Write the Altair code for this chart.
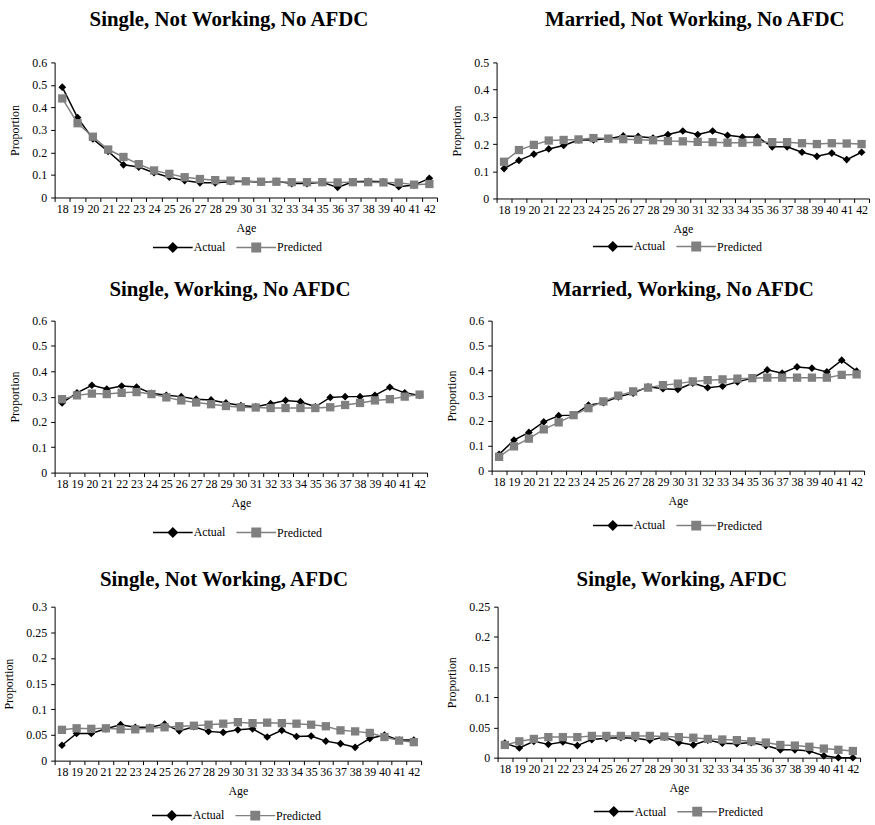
import altair as alt
import pandas as pd

ages = list(range(18, 43))
series_names = ["Actual", "Predicted"]
series_colors = ["#000000", "#808080"]

titles = [
    "Single, Not Working, No AFDC",
    "Married, Not Working, No AFDC",
    "Single, Working, No AFDC",
    "Married, Working, No AFDC",
    "Single, Not Working, AFDC",
    "Single, Working, AFDC",
]

snw_noafdc_actual = [0.49, 0.355, 0.26, 0.205, 0.145, 0.135, 0.11, 0.09, 0.075, 0.065, 0.065, 0.07, 0.072,
                     0.068, 0.072, 0.062, 0.062, 0.068, 0.045, 0.07, 0.072, 0.07, 0.048, 0.055, 0.085]
snw_noafdc_pred = [0.44, 0.33, 0.27, 0.213, 0.18, 0.148, 0.12, 0.105, 0.09, 0.082, 0.077, 0.075, 0.072,
                   0.07, 0.07, 0.068, 0.068, 0.068, 0.067, 0.068, 0.068, 0.067, 0.066, 0.057, 0.06]

mnw_noafdc_actual = [0.11, 0.14, 0.163, 0.182, 0.195, 0.215, 0.215, 0.22, 0.23, 0.228, 0.222, 0.235, 0.248,
                     0.235, 0.248, 0.232, 0.226, 0.226, 0.19, 0.19, 0.17, 0.155, 0.167, 0.143, 0.17]
mnw_noafdc_pred = [0.135, 0.178, 0.197, 0.213, 0.215, 0.217, 0.222, 0.22, 0.218, 0.216, 0.214, 0.211, 0.21,
                   0.208, 0.207, 0.205, 0.205, 0.207, 0.207, 0.207, 0.203, 0.2, 0.203, 0.202, 0.2]

sw_noafdc_actual = [0.275, 0.315, 0.345, 0.33, 0.342, 0.338, 0.313, 0.305, 0.3, 0.29, 0.287, 0.275, 0.265,
                    0.26, 0.272, 0.285, 0.28, 0.26, 0.297, 0.3, 0.3, 0.305, 0.337, 0.315, 0.305]
sw_noafdc_pred = [0.29, 0.305, 0.312, 0.31, 0.315, 0.318, 0.31, 0.297, 0.285, 0.277, 0.27, 0.263, 0.258,
                  0.257, 0.255, 0.255, 0.255, 0.255, 0.258, 0.267, 0.275, 0.285, 0.29, 0.3, 0.308]

mw_noafdc_actual = [0.065, 0.122, 0.153, 0.195, 0.22, 0.222, 0.262, 0.272, 0.295, 0.31, 0.335, 0.328, 0.325,
                    0.35, 0.332, 0.338, 0.355, 0.37, 0.403, 0.39, 0.415, 0.41, 0.395, 0.442, 0.398]
mw_noafdc_pred = [0.055, 0.097, 0.128, 0.165, 0.193, 0.222, 0.25, 0.277, 0.3, 0.317, 0.332, 0.342, 0.348,
                  0.357, 0.362, 0.365, 0.368, 0.37, 0.372, 0.372, 0.372, 0.372, 0.372, 0.383, 0.385]

snw_afdc_actual = [0.03, 0.053, 0.053, 0.062, 0.07, 0.065, 0.065, 0.071, 0.058, 0.066, 0.057, 0.055, 0.06,
                   0.062, 0.046, 0.059, 0.047, 0.048, 0.038, 0.033, 0.026, 0.043, 0.05, 0.04, 0.04]
snw_afdc_pred = [0.06, 0.063, 0.062, 0.063, 0.061, 0.061, 0.063, 0.065, 0.067, 0.068, 0.07, 0.072, 0.075,
                 0.073, 0.074, 0.073, 0.072, 0.07, 0.067, 0.059, 0.057, 0.054, 0.046, 0.039, 0.036]

sw_afdc_actual = [0.024, 0.016, 0.027, 0.022, 0.026, 0.02, 0.03, 0.032, 0.033, 0.032, 0.029, 0.034, 0.025,
                  0.021, 0.029, 0.024, 0.023, 0.025, 0.02, 0.013, 0.013, 0.011, 0.003, 0.0, 0.0]
sw_afdc_pred = [0.021, 0.027, 0.031, 0.034, 0.034, 0.034, 0.036, 0.036, 0.036, 0.036, 0.036, 0.035, 0.034,
                0.033, 0.031, 0.03, 0.029, 0.027, 0.025, 0.021, 0.02, 0.018, 0.015, 0.013, 0.011]

yticks_06 = [0, 0.1, 0.2, 0.3, 0.4, 0.5, 0.6]
yticks_05 = [0, 0.1, 0.2, 0.3, 0.4, 0.5]
yticks_03 = [0, 0.05, 0.1, 0.15, 0.2, 0.25, 0.3]
yticks_025 = [0, 0.05, 0.1, 0.15, 0.2, 0.25]

FONT = "Liberation Serif"
diamond_legend = "M-4,0H4M0,-0.9L0.9,0L0,0.9L-0.9,0Z"
square_legend = "M-4,0H4M-0.85,-0.85H0.85V0.85H-0.85Z"


def panel(title, actual, predicted, yticks, width, height, title_offset, title_dx, leg_x, leg_y):
    df = pd.DataFrame({
        "Age": ages + ages,
        "Proportion": actual + predicted,
        "Series": ["Actual"] * len(ages) + ["Predicted"] * len(ages),
    })
    x = alt.X(
        "Age:O",
        title="Age",
        bandPosition=0.5,
        scale=alt.Scale(type="band", paddingInner=0, paddingOuter=0),
        axis=alt.Axis(labelAngle=0, tickBand="extent", tickSize=4, labelPadding=2, titlePadding=8),
    )
    y = alt.Y(
        "Proportion:Q",
        title="Proportion",
        scale=alt.Scale(domain=[yticks[0], yticks[-1]], nice=False, zero=True),
        axis=alt.Axis(values=yticks, format=".2~f", grid=False, tickSize=4, labelPadding=4, titlePadding=10),
    )
    base = alt.Chart(df).encode(x=x, y=y)
    act = base.transform_filter("datum.Series == 'Actual'")
    pred = base.transform_filter("datum.Series == 'Predicted'")
    act_line = act.mark_line(color=series_colors[0], strokeWidth=1.5)
    act_pts = act.mark_point(shape="diamond", filled=True, color=series_colors[0], size=60, opacity=1)
    pred_line = pred.mark_line(color=series_colors[1], strokeWidth=1.5)
    pred_pts = pred.mark_point(shape="square", filled=True, color=series_colors[1], size=70, opacity=1)

    leg = alt.Legend(
        title=None, orient="none", direction="horizontal", legendX=leg_x, legendY=leg_y,
        symbolSize=100, symbolStrokeWidth=1.5, labelOffset=15, columnPadding=8,
        labelFont=FONT, labelFontSize=12, labelColor="black",
    )
    legend_layer = base.transform_filter("datum.Age < 0").mark_point(filled=True, opacity=1, strokeWidth=1.5).encode(
        shape=alt.Shape("Series:N", scale=alt.Scale(domain=series_names, range=[diamond_legend, square_legend]), legend=leg),
        fill=alt.Fill("Series:N", scale=alt.Scale(domain=series_names, range=series_colors), legend=leg),
        stroke=alt.Stroke("Series:N", scale=alt.Scale(domain=series_names, range=series_colors), legend=leg),
    )
    return alt.layer(act_line, act_pts, pred_line, pred_pts, legend_layer).properties(
        width=width,
        height=height,
        title=alt.TitleParams(title, offset=title_offset, dx=title_dx, anchor="middle"),
    )


def ind(c):
    return c.resolve_scale(shape="independent", fill="independent", stroke="independent").resolve_legend(
        shape="independent", fill="independent", stroke="independent")


row1 = ind(alt.hconcat(
    panel(titles[0], snw_noafdc_actual, snw_noafdc_pred, yticks_06, 385, 136, 27, -17, 113, 180),
    panel(titles[1], mnw_noafdc_actual, mnw_noafdc_pred, yticks_05, 375, 137, 27, 12, 111, 179),
    spacing=12,
))
row2 = ind(alt.hconcat(
    panel(titles[2], sw_noafdc_actual, sw_noafdc_pred, yticks_06, 375, 153, 15, -11, 113, 207),
    panel(titles[3], mw_noafdc_actual, mw_noafdc_pred, yticks_06, 375, 151, 15, 5, 116, 200),
    spacing=17,
))
row3 = ind(alt.hconcat(
    panel(titles[4], snw_afdc_actual, snw_afdc_pred, yticks_03, 369, 155, 11, -14, 112, 204),
    panel(titles[5], sw_afdc_actual, sw_afdc_pred, yticks_025, 365, 152, 11, 3, 111, 200),
    spacing=23,
))

lower = ind(alt.vconcat(row2, row3, spacing=27))

chart = ind(alt.vconcat(row1, lower, spacing=22)).properties(
    padding={"left": 2, "top": 5, "right": 5, "bottom": 3},
    background="white",
).configure_view(stroke="transparent").configure_axis(
    domainColor="black", tickColor="black", labelColor="black", titleColor="black",
    labelFont=FONT, labelFontSize=12, titleFont=FONT, titleFontSize=12, titleFontWeight="normal",
    domainWidth=1, tickWidth=1,
).configure_title(
    font=FONT, fontSize=21, fontWeight="bold", color="black",
)

chart.save("out.html", embed_options={"renderer": "svg", "actions": False})
